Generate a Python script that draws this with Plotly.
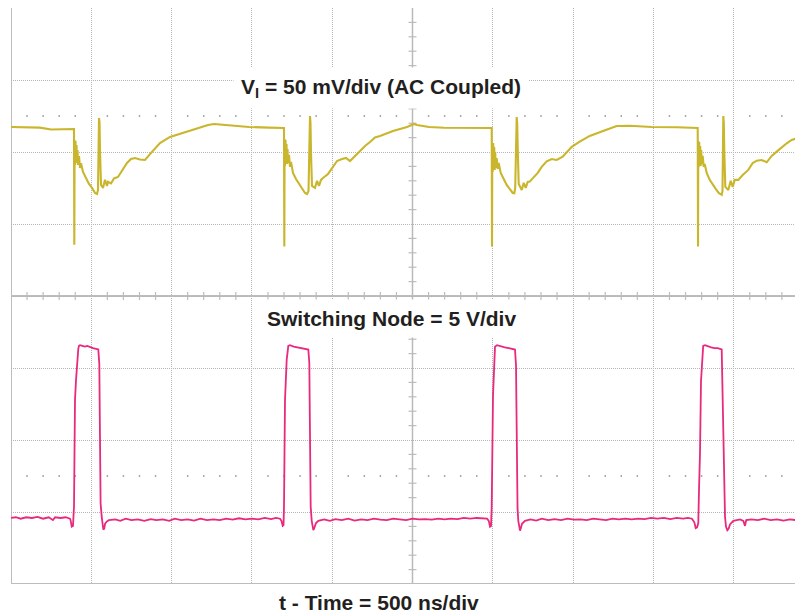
import plotly.graph_objects as go

# ---------------- Oscilloscope settings ----------------
TIME_PER_DIV_NS = 500      # t - Time = 500 ns/div
VI_MV_PER_DIV = 50         # V_I = 50 mV/div (AC coupled)
SW_V_PER_DIV = 5           # Switching node = 5 V/div
N_DIV_Y = 8
X_SPAN_DIV = 9.863         # visible part of the 10-div screen
VI_REF_DIV = 6.333         # screen position of V_I 0 mV reference
SW_REF_DIV = 0.917         # screen position of switching node 0 V

# ---------------- V_I trace (time ns, mV) ----------------
vi_pre = [(0, 0.7), (60, 0.5), (120, 0.0), (180, 0.3), (250, -1.0), (320, -0.8), (385, -0.7)]

vi_cycle1 = [(392.3, -0.7), (394.2, -81.1), (396.0, -8.3), (398.5, -25.6), (401.6, -9.0), (404.8, -22.2),
             (407.9, -11.8), (411.0, -24.3), (414.1, -15.3), (417.2, -25.6), (423.4, -19.5), (429.7, -27.7),
             (435.9, -24.5), (448.3, -30.5), (467.0, -34.7), (485.7, -38.8), (504.4, -41.6), (523.1, -45.1),
             (535.5, -45.8), (541.7, -43.0), (548.0, 6.9), (551.1, 4.2), (554.2, -15.3), (560.4, -39.5),
             (572.9, -41.6), (585.3, -36.0), (597.8, -40.2), (604.0, -37.4), (622.7, -38.5), (641.4, -35.0),
             (666.3, -34.0), (691.2, -30.0), (722.3, -24.3), (747.2, -21.5), (772.1, -20.8), (803.3, -21.8),
             (834.4, -22.2), (878.0, -16.6), (927.8, -10.4), (990.1, -6.2), (1083.5, -2.8), (1176.8, 0.7),
             (1226.7, 2.1), (1264.0, 2.8), (1357.4, 1.7), (1481.9, 0.7), (1606.5, 0.3), (1681.2, 0.0)]

vi_cycle2 = [(1699.9, 0.0), (1701.8, -82.3), (1703.6, -7.6), (1706.1, -26.3), (1709.2, -8.3), (1712.4, -23.6),
             (1715.5, -11.1), (1718.6, -25.0), (1721.7, -14.6), (1724.8, -24.3), (1731.0, -18.7), (1737.3, -27.0),
             (1743.5, -23.6), (1755.9, -31.2), (1774.6, -35.4), (1793.3, -38.8), (1812.0, -42.3), (1830.7, -45.1),
             (1843.1, -45.8), (1852.5, -43.7), (1861.8, 8.3), (1864.9, 3.5), (1868.0, -17.3), (1874.3, -40.2),
             (1892.9, -41.6), (1905.4, -36.7), (1917.8, -40.2), (1930.3, -36.0), (1942.7, -34.7), (1973.9, -31.9),
             (2005.0, -27.0), (2029.9, -22.9), (2061.0, -21.5), (2086.0, -20.8), (2110.9, -22.9), (2135.8, -20.1),
             (2173.1, -16.6), (2204.3, -12.5), (2235.4, -9.7), (2266.5, -6.5), (2297.7, -5.5), (2378.6, -2.1),
             (2465.8, 0.7), (2509.4, 2.8), (2528.0, 2.1), (2602.8, 0.7), (2696.2, 0.2), (2851.8, 0.2),
             (2988.8, 0.2)]

vi_cycle3 = [(2993.2, 0.0), (2995.1, -82.3), (2996.9, -12.5), (2999.4, -30.5), (3002.5, -10.4), (3005.7, -27.7),
             (3008.8, -13.2), (3011.9, -29.1), (3015.0, -16.6), (3018.1, -27.7), (3024.3, -20.8), (3030.6, -28.4),
             (3036.8, -24.3), (3049.2, -31.2), (3067.9, -35.4), (3086.6, -39.5), (3105.3, -42.3), (3124.0, -45.1),
             (3133.9, -45.3), (3139.5, -41.6), (3148.9, 7.6), (3152.0, 3.5), (3155.1, -13.9), (3161.3, -38.8),
             (3180.0, -43.0), (3192.5, -38.1), (3204.9, -41.6), (3217.4, -37.4), (3229.8, -37.2), (3254.7, -34.0),
             (3279.6, -31.2), (3304.5, -27.0), (3335.7, -23.1), (3366.8, -21.5), (3397.9, -22.2), (3435.3, -19.9),
             (3466.4, -15.9), (3491.3, -13.0), (3541.1, -9.5), (3603.4, -5.5), (3690.6, -1.9), (3771.5, 1.4),
             (3852.5, 1.6), (3989.5, 0.7), (4145.2, 0.5), (4263.5, -0.2)]

vi_cycle4 = [(4275.9, 0.0), (4277.8, -82.3), (4279.6, -9.0), (4282.1, -27.0), (4285.2, -9.7), (4288.4, -24.3),
             (4291.5, -12.5), (4294.6, -26.3), (4297.7, -15.3), (4300.8, -25.0), (4307.0, -19.4), (4313.3, -27.0),
             (4319.5, -25.0), (4331.9, -31.2), (4350.6, -36.0), (4369.3, -39.5), (4388.0, -42.3), (4406.7, -45.1),
             (4425.3, -46.4), (4430.3, -43.7), (4435.3, 8.3), (4438.4, 3.5), (4441.5, -16.6), (4447.8, -40.9),
             (4466.4, -43.0), (4481.4, -36.7), (4493.8, -40.9), (4506.3, -36.0), (4528.7, -36.0), (4556.1, -32.6),
             (4591.0, -29.1), (4618.4, -24.3), (4643.3, -22.7), (4674.4, -22.2), (4705.5, -23.8), (4736.7, -19.4),
             (4767.8, -16.4), (4799.0, -13.2), (4830.1, -10.6), (4861.2, -8.3), (4892.4, -7.1), (4931.5, -3.7)]

# ---------------- Switching node trace (time ns, V) ----------------
sw_pre = [(0, 0.0), (30, 0.05), (60, -0.05), (95, 0.05), (130, 0.0), (165, 0.08), (200, -0.05), (235, 0.05),
          (261, -0.15), (275, 0.05), (310, 0.0), (340, 0.05), (367, -0.05)]

sw_pulse1 = [(371, -0.15), (378, -0.6), (386, -0.55), (392.3, 0.8), (398.5, 8.2), (405, 9.6), (409.1, 10.5),
             (419.1, 11.76), (423.4, 11.95), (430, 12.0), (445, 11.95), (460, 11.9), (475, 11.95), (492, 11.85),
             (510, 11.8), (530, 11.75), (543.6, 11.7), (549.8, 10.7), (552, 7.5), (554.2, 3.1), (558, 1.0),
             (564.8, 0.1), (571, -0.6), (574.7, -0.8), (580, -0.75), (586, -0.4), (596, -0.25), (610, -0.15)]

sw_low1 = [(650, -0.1), (680, -0.2), (715, -0.05), (750, -0.15), (790, -0.1), (830, -0.2), (870, -0.08),
           (905, -0.15), (945, -0.1), (985, -0.2), (1020, -0.05), (1060, -0.15), (1100, -0.1), (1140, -0.18),
           (1180, -0.05), (1220, -0.15), (1260, -0.1), (1300, -0.15), (1340, -0.05), (1380, -0.12), (1420, -0.02),
           (1460, -0.1), (1500, -0.05), (1540, -0.1), (1580, 0.0), (1620, -0.08), (1650, 0.0)]

sw_pulse2 = [(1675.0, -0.05), (1684, -0.2), (1691.8, -0.55), (1697, -0.5), (1699.9, 0.8), (1706.1, 8.2),
             (1711, 10.0), (1716.7, 11.0), (1726.7, 11.95), (1737.3, 12.0), (1760, 11.9), (1780, 11.85),
             (1800, 11.8), (1820, 11.75), (1840, 11.75), (1851.2, 11.7), (1857.4, 10.8), (1860, 7.0),
             (1861.8, 3.0), (1866, 0.8), (1872.4, -0.2), (1877, -0.6), (1882.4, -0.85), (1888, -0.7),
             (1899.2, -0.35), (1913.5, -0.2)]

sw_low2 = [(1950, -0.1), (1985, -0.2), (2020, -0.08), (2060, -0.15), (2100, -0.05), (2140, -0.18), (2180, -0.1),
           (2220, -0.15), (2260, -0.05), (2300, -0.12), (2340, -0.15), (2380, -0.05), (2420, -0.1), (2460, -0.15),
           (2500, -0.05), (2540, -0.1), (2580, -0.08), (2620, -0.12), (2660, -0.05), (2700, -0.1), (2740, -0.05),
           (2780, -0.08), (2820, 0.0), (2860, -0.05), (2900, 0.0), (2935, -0.05)]

sw_pulse3 = [(2963.9, -0.05), (2975, -0.2), (2982.6, -0.6), (2989, -0.55), (2993.2, 0.8), (3001.3, 8.5),
             (3006, 10.2), (3013.7, 11.9), (3026.2, 12.0), (3050, 11.9), (3075, 11.85), (3100, 11.8),
             (3125, 11.75), (3138.3, 11.7), (3144.5, 10.6), (3147, 7.0), (3150.7, 2.5), (3154, 0.7),
             (3158.8, -0.2), (3164, -0.65), (3169.4, -0.88), (3175, -0.7), (3181.8, -0.4), (3200.5, -0.2)]

sw_low3 = [(3235, -0.1), (3270, -0.18), (3305, -0.05), (3345, -0.15), (3385, -0.08), (3425, -0.15), (3465, -0.05),
           (3505, -0.12), (3545, -0.1), (3585, -0.15), (3625, -0.05), (3665, -0.1), (3705, -0.15), (3745, -0.05),
           (3785, -0.1), (3825, -0.05), (3865, -0.1), (3905, -0.05), (3945, -0.08), (3985, 0.0), (4025, -0.05),
           (4065, 0.0), (4105, -0.08), (4145, 0.0), (4185, -0.05), (4215, 0.0)]

sw_pulse4 = [(4240.3, -0.05), (4255, -0.3), (4263.4, -0.7), (4272, -0.65), (4279.6, -0.35), (4284, 2.0),
             (4290.2, 4.5), (4296.4, 9.5), (4304.5, 11.65), (4310, 11.95), (4321.3, 12.0), (4340, 11.9),
             (4360, 11.85), (4380, 11.8), (4400, 11.8), (4425.3, 11.7), (4431.5, 7.9), (4439.6, 1.9),
             (4445.8, 0.1), (4452, -0.6), (4460.2, -0.85), (4468, -0.75), (4477.0, -0.45), (4497.5, -0.2)]

sw_low4 = [(4540, -0.1), (4560, -0.2), (4570.4, -0.55), (4578, -0.15), (4610, -0.1), (4650, -0.15), (4690, -0.05),
           (4730, -0.15), (4770, -0.1), (4810, -0.18), (4850, -0.1), (4890, -0.15), (4931.5, -0.1)]

# ---------------- Labels ----------------
LABEL_VI = "<b>V<sub>I</sub> = 50 mV/div (AC Coupled)</b>"
LABEL_SW = "<b>Switching Node = 5 V/div</b>"
LABEL_T = "<b>t - Time = 500 ns/div</b>"

VI_COLOR = "#C9B62C"
SW_COLOR = "#E9297E"
GRID_DOT = "#B5B5B5"
GRID_SOLID = "#BDBDBD"
FONT = "Liberation Sans, Arial, Helvetica, sans-serif"

vi_pts = vi_pre + vi_cycle1 + vi_cycle2 + vi_cycle3 + vi_cycle4
sw_pts = sw_pre + sw_pulse1 + sw_low1 + sw_pulse2 + sw_low2 + sw_pulse3 + sw_low3 + sw_pulse4 + sw_low4

X_MAX = X_SPAN_DIV * TIME_PER_DIV_NS

fig = go.Figure()
fig.add_trace(go.Scatter(x=[p[0] for p in vi_pts], y=[p[1] for p in vi_pts], yaxis="y2", mode="lines",
                         line=dict(color=VI_COLOR, width=2.1), hoverinfo="skip", showlegend=False))
fig.add_trace(go.Scatter(x=[p[0] for p in sw_pts], y=[p[1] for p in sw_pts], yaxis="y3", mode="lines",
                         line=dict(color=SW_COLOR, width=1.8), hoverinfo="skip", showlegend=False))

# ---------------- Graticule decorations ----------------
shapes = []
def line(**kw):
    d = dict(type="line", xref="x", yref="y", layer="below")
    d.update(kw)
    shapes.append(d)

line(x0=0, x1=0, y0=0, y1=N_DIV_Y, line=dict(color=GRID_SOLID, width=2))
line(x0=0, x1=X_MAX, y0=0, y1=0, line=dict(color=GRID_SOLID, width=2))
x_center = 5 * TIME_PER_DIV_NS
y_center = N_DIV_Y / 2
line(x0=x_center, x1=x_center, y0=0, y1=N_DIV_Y, line=dict(color=GRID_SOLID, width=1.5))
line(x0=0, x1=X_MAX, y0=y_center, y1=y_center, line=dict(color=GRID_SOLID, width=2))

minor_dt = TIME_PER_DIV_NS / 5
k = 1
while k * minor_dt < X_MAX:
    xm = k * minor_dt
    if k % 5:
        line(x0=xm, x1=xm, ysizemode="pixel", yanchor=y_center, y0=-4, y1=4,
             line=dict(color=GRID_SOLID, width=1.2))
        for yr in (1.5, 6.5):
            line(x0=xm, x1=xm, ysizemode="pixel", yanchor=yr, y0=-1, y1=1,
                 line=dict(color="#A8A8A8", width=1.5))
    k += 1
for j in range(1, N_DIV_Y * 5):
    if j % 5:
        line(xsizemode="pixel", xanchor=x_center, x0=-4, x1=4, y0=j * 0.2, y1=j * 0.2,
             line=dict(color=GRID_SOLID, width=1.2))

# Page layout: the browser body adds an 8 px margin, so the figure is drawn at (8, 8).
PAGE_OFF = 8
FIG_W, FIG_H = 803 - PAGE_OFF, 616 - PAGE_OFF
PLOT_L, PLOT_T, PLOT_R, PLOT_B = 11, 8, 803, 584      # plot area in page pixels
PLOT_W, PLOT_H = PLOT_R - PLOT_L, PLOT_B - PLOT_T

def px(xp):
    return (xp - PLOT_L) / PLOT_W
def py(yp):
    return (PLOT_B - yp) / PLOT_H

annotations = [
    dict(text=LABEL_VI, x=px(381), y=py(88), xref="paper", yref="paper", showarrow=False,
         xanchor="center", yanchor="middle", font=dict(family=FONT, size=21, color="#231F20"),
         bgcolor="white", borderpad=7),
    dict(text=LABEL_SW, x=px(391), y=py(318), xref="paper", yref="paper", showarrow=False,
         xanchor="center", yanchor="middle", font=dict(family=FONT, size=21, color="#231F20"),
         bgcolor="white", borderpad=7),
    dict(text=LABEL_T, x=px(379), y=py(602), xref="paper", yref="paper", showarrow=False,
         xanchor="center", yanchor="middle", font=dict(family=FONT, size=21, color="#231F20")),
]

grid_common = dict(showgrid=True, gridcolor=GRID_DOT, griddash="1px,1px", gridwidth=1,
                   zeroline=False, showline=False, showticklabels=False, ticks="", fixedrange=True)

fig.update_layout(
    width=FIG_W, height=FIG_H,
    margin=dict(l=PLOT_L - PAGE_OFF, r=FIG_W - (PLOT_R - PAGE_OFF), t=PLOT_T - PAGE_OFF,
                b=FIG_H - (PLOT_B - PAGE_OFF), pad=0),
    paper_bgcolor="white", plot_bgcolor="white",
    xaxis=dict(range=[0, X_MAX], tick0=0, dtick=TIME_PER_DIV_NS, **grid_common),
    yaxis=dict(range=[0, N_DIV_Y], tick0=0, dtick=1, **grid_common),
    yaxis2=dict(range=[-VI_REF_DIV * VI_MV_PER_DIV, (N_DIV_Y - VI_REF_DIV) * VI_MV_PER_DIV],
                overlaying="y", visible=False, fixedrange=True),
    yaxis3=dict(range=[-SW_REF_DIV * SW_V_PER_DIV, (N_DIV_Y - SW_REF_DIV) * SW_V_PER_DIV],
                overlaying="y", visible=False, fixedrange=True),
    shapes=shapes,
    annotations=annotations,
    showlegend=False,
)

fig.write_html("out.html")
